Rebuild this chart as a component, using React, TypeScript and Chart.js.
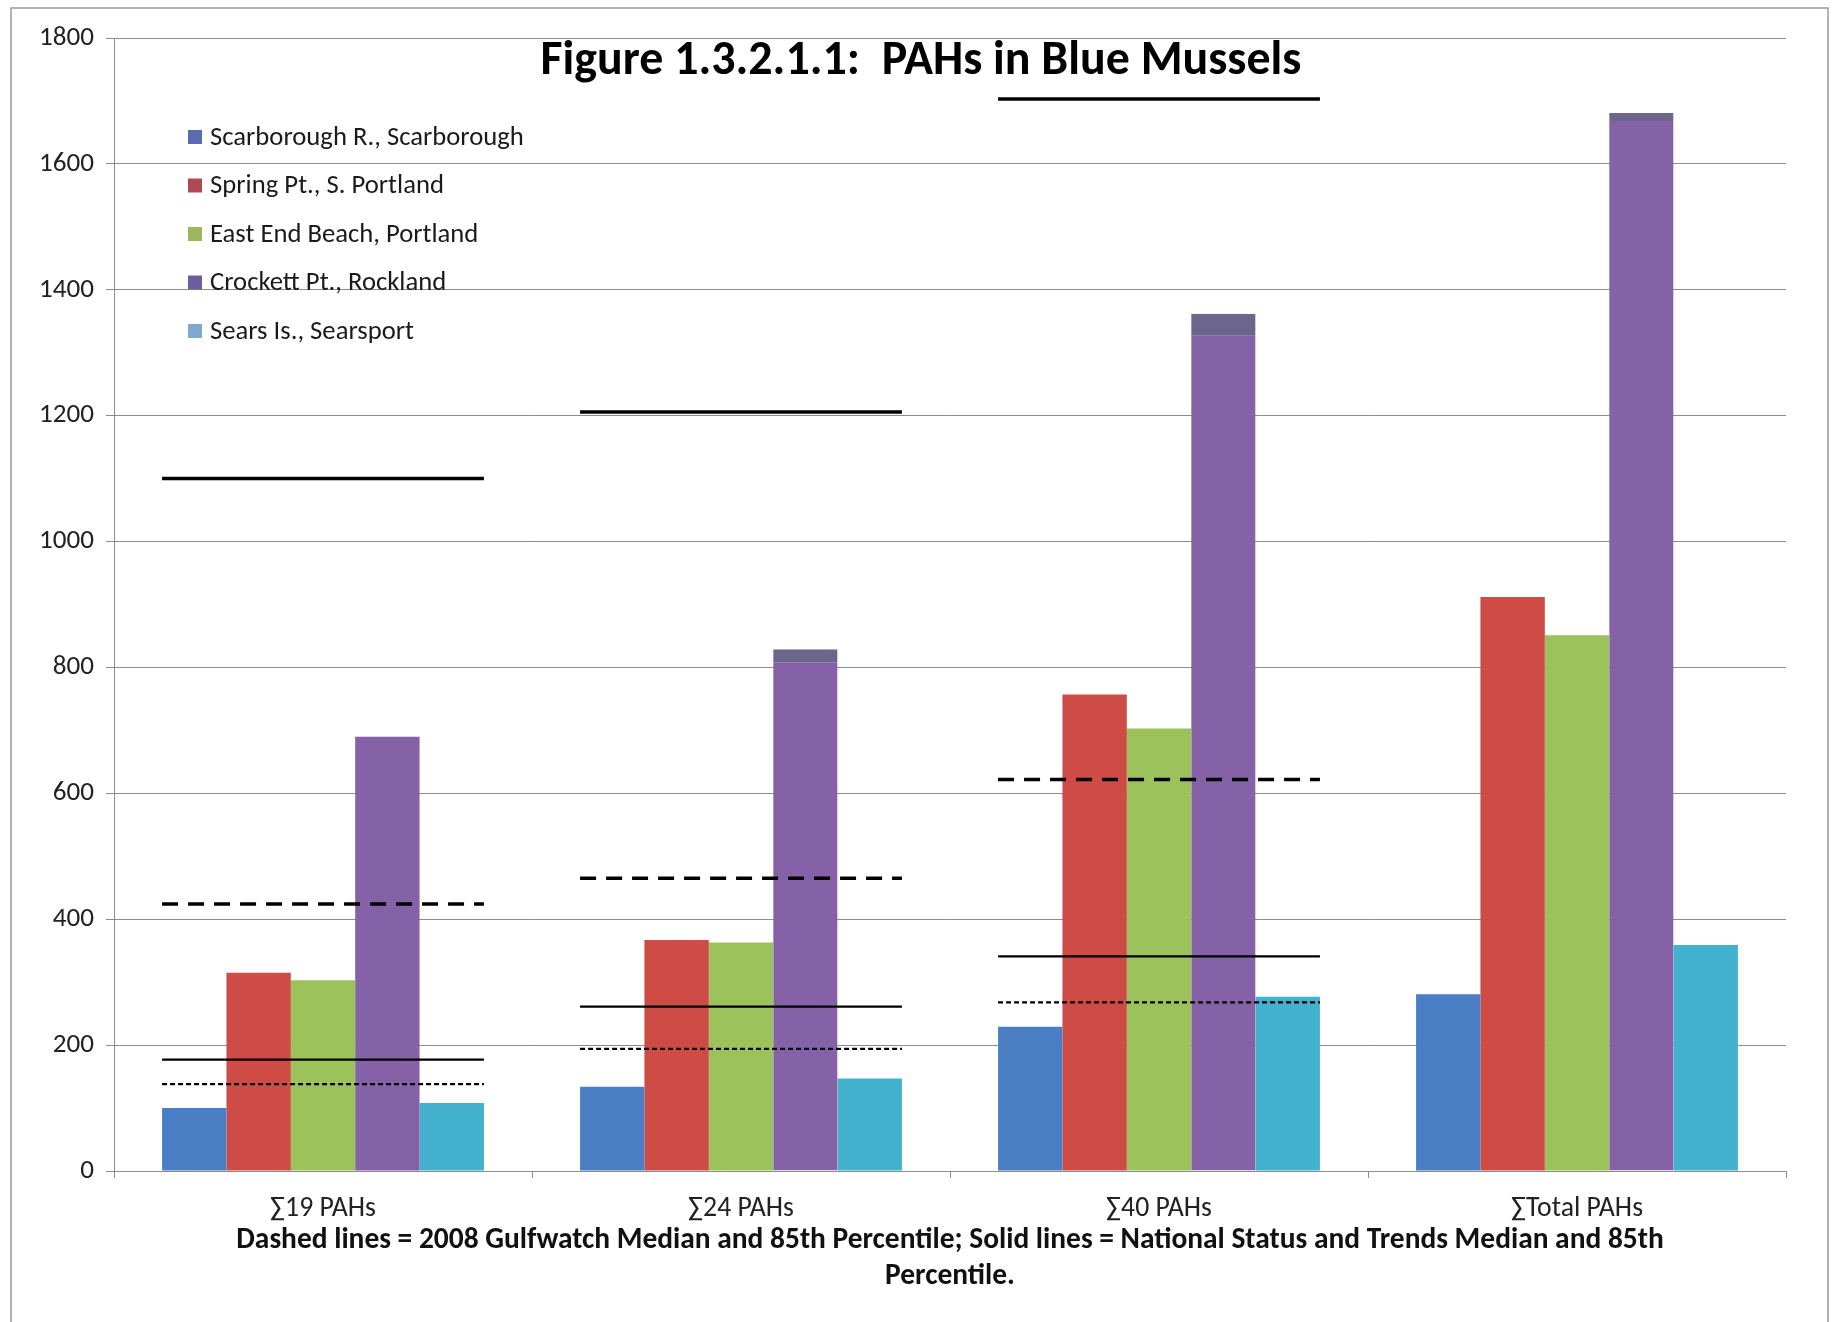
import React, { useEffect, useRef } from "react";
import { Chart, registerables } from "chart.js";

Chart.register(...registerables);

// ---- data ----
const categories = ["∑19 PAHs", "∑24 PAHs", "∑40 PAHs", "∑Total PAHs"];
const seriesNames = [
  "Scarborough R., Scarborough",
  "Spring Pt., S. Portland",
  "East End Beach, Portland",
  "Crockett Pt., Rockland",
  "Sears Is., Searsport",
];
const scarborough = [100, 134, 229, 281];
const springPt = [315, 367, 757, 912];
const eastEnd = [303, 363, 703, 851];
const crockett = [690, 829, 1362, 1681];
const searsIs = [108, 147, 277, 359];

// reference lines (null = no line for that category)
const nst85 = [1100, 1206, 1703, null]; // solid thick: NS&T 85th percentile
const gulf85 = [424, 465, 622, null]; // dashed thick: Gulfwatch 85th percentile
const nstMedian = [177, 261, 341, null]; // solid thin: NS&T median
const gulfMedian = [138, 194, 268, null]; // dashed thin: Gulfwatch median

const yTicks = [0, 200, 400, 600, 800, 1000, 1200, 1400, 1600, 1800];

const titleText = "Figure 1.3.2.1.1:  PAHs in Blue Mussels";
const footerLines = [
  "Dashed lines = 2008 Gulfwatch Median and 85th Percentile; Solid lines = National Status and Trends Median and 85th",
  "Percentile.",
];

// ---- styles ----
const FONT = "Carlito, Lato, 'Open Sans', sans-serif";
const barColors = ["#4A7FC6", "#CF4B46", "#9CC35B", "#8561A8", "#43B2CE"];
const legendColors = ["#5B6BAF", "#B04A52", "#9DB55C", "#6D5EA0", "#7EAAD2"];
const GRID = "#8c8c8c";
const HALF = 0.385;

function fitSize(text: string, weight: string, target: number): number {
  const c = document.createElement("canvas").getContext("2d")!;
  c.font = `${weight} 100px ${FONT}`;
  const w = c.measureText(text).width;
  return (100 * target) / w;
}

function segments(values: (number | null)[]) {
  const pts: { x: number; y: number | null }[] = [];
  values.forEach((v, i) => {
    if (v === null) return;
    pts.push({ x: i - HALF, y: v });
    pts.push({ x: i + HALF, y: v });
    pts.push({ x: i + 0.5, y: null });
  });
  return pts;
}

export default function App() {
  const ref = useRef<HTMLCanvasElement | null>(null);

  useEffect(() => {
    const canvas = ref.current;
    if (!canvas) return;

    const titleSize = fitSize(titleText, "bold", 761);
    const legendSize = fitSize(seriesNames[0], "normal", 314);
    const footerSize = fitSize(footerLines[0], "bold", 1428);
    const xTickSize = fitSize(categories[3], "normal", 132);
    const yTickSize = fitSize("1800", "normal", 55);

    const overlay = {
      id: "overlay",
      afterDraw(chart: any) {
        const ctx = chart.ctx;
        ctx.save();
        // outer frame
        ctx.strokeStyle = "#9a9a9a";
        ctx.lineWidth = 1.5;
        ctx.strokeRect(11, 8, 1817, 1400);
        // title
        ctx.fillStyle = "#000";
        ctx.font = `bold ${titleSize}px ${FONT}`;
        ctx.textAlign = "center";
        ctx.textBaseline = "middle";
        ctx.fillText(titleText, 921, 62);
        // legend
        ctx.font = `normal ${legendSize}px ${FONT}`;
        ctx.textAlign = "left";
        const ys = [137, 185.5, 234, 282.5, 331];
        seriesNames.forEach((name, i) => {
          ctx.fillStyle = legendColors[i];
          ctx.fillRect(188, ys[i] - 7, 14, 14);
          ctx.fillStyle = "#1a1a1a";
          ctx.fillText(name, 210, ys[i] + 1);
        });
        ctx.restore();
      },
    };

    const barData = [scarborough, springPt, eastEnd, crockett, searsIs];
    const lineDefs = [
      { values: nst85, width: 3.5, dash: [] as number[] },
      { values: gulf85, width: 3.5, dash: [16, 10] },
      { values: nstMedian, width: 2.2, dash: [] as number[] },
      { values: gulfMedian, width: 2.2, dash: [5, 3] },
    ];

    const chart = new Chart(canvas, {
      type: "bar",
      data: {
        datasets: [
          ...barData.map((d, i) => ({
            type: "bar" as const,
            label: seriesNames[i],
            data: d.map((v, k) => ({ x: k, y: v })) as any,
            backgroundColor: barColors[i],
            borderColor: i === 3 ? "#6C668C" : barColors[i],
            borderWidth:
              i === 3
                ? [
                    { top: 0, left: 0, right: 0, bottom: 0 },
                    { top: 13, left: 0, right: 0, bottom: 0 },
                    { top: 22, left: 0, right: 0, bottom: 0 },
                    { top: 8, left: 0, right: 0, bottom: 0 },
                  ]
                : 0,
            borderSkipped: "bottom" as const,
            categoryPercentage: 0.77,
            barPercentage: 1.0,
            grouped: true,
            order: 2,
          })),
          ...lineDefs.map((l, i) => ({
            type: "line" as const,
            label: "ref" + i,
            data: segments(l.values) as any,
            borderColor: "#000",
            borderWidth: l.width,
            borderDash: l.dash,
            pointRadius: 0,
            spanGaps: false,
            fill: false,
            tension: 0,
            order: 1,
            borderCapStyle: "butt" as const,
          })),
        ],
      },
      options: {
        responsive: false,
        animation: false,
        events: [],
        parsing: true,
        layout: { padding: { left: 0, top: 38, right: 50, bottom: 0 } },
        plugins: {
          legend: { display: false },
          tooltip: { enabled: false },
          title: { display: false },
        },
        scales: {
          x: {
            type: "linear",
            min: -0.5,
            max: 3.5,
            offset: false,
            afterBuildTicks(scale: any) {
              scale.ticks = categories.map((_, i) => ({ value: i }));
            },
            grid: {
              offset: true,
              drawOnChartArea: false,
              drawTicks: true,
              tickLength: 7,
              color: GRID,
            },
            border: { color: GRID, width: 1 },
            ticks: {
              color: "#222",
              padding: 14,
              font: { family: FONT, size: xTickSize },
              maxRotation: 0,
              autoSkip: false,
              callback: (v: any) => categories[Math.round(Number(v))] ?? "",
            },
            title: {
              display: true,
              text: footerLines,
              color: "#111",
              font: { family: FONT, size: footerSize, weight: "bold", lineHeight: 36 / footerSize },
              padding: { top: 0, bottom: 27 },
            },
            afterFit(scale: any) {
              scale.height = 151;
            },
          },
          y: {
            type: "linear",
            min: 0,
            max: 1800,
            afterBuildTicks(scale: any) {
              scale.ticks = yTicks.map((v) => ({ value: v }));
            },
            grid: {
              color: GRID,
              lineWidth: 1,
              tickLength: 8,
            },
            border: { color: GRID, width: 1 },
            ticks: {
              color: "#222",
              padding: 12,
              font: { family: FONT, size: yTickSize },
              callback: (v: any) => String(v),
            },
            afterFit(scale: any) {
              scale.width = 114;
            },
          },
        },
      },
      plugins: [overlay],
    });

    return () => chart.destroy();
  }, []);

  return (
    <div style={{ position: "absolute", left: 0, top: 0, width: 1836, height: 1322, background: "#fff" }}>
      <canvas ref={ref} width={1836} height={1322} style={{ display: "block", width: 1836, height: 1322 }} />
    </div>
  );
}
